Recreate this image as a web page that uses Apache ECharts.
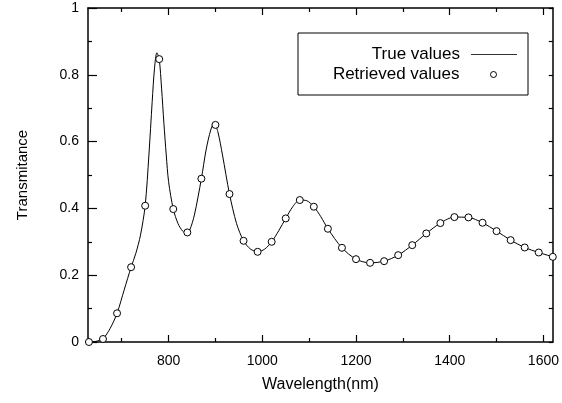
<!DOCTYPE html>
<html>
<head>
<meta charset="utf-8">
<script src="https://cdn.jsdelivr.net/npm/echarts@6/dist/echarts.min.js"></script>
<style>
  html, body { margin: 0; padding: 0; background: #fff; }
  #chart { width: 562px; height: 403px; }
</style>
</head>
<body>
<div id="chart"></div>
<script>
// Retrieved values, read every 30 nm
let retrievedX = [630, 660, 690, 720, 750, 780, 810, 840, 870, 900, 930, 960, 990, 1020, 1050, 1080, 1110,
	1140, 1170, 1200, 1230, 1260, 1290, 1320, 1350, 1380, 1410, 1440, 1470, 1500, 1530, 1560, 1590, 1620];
let retrievedY = [0.0, 0.009, 0.086, 0.224, 0.408, 0.847, 0.398, 0.328, 0.489, 0.65, 0.443, 0.303, 0.27, 0.30, 0.37, 0.425, 0.405,
	0.339, 0.282, 0.248, 0.237, 0.242, 0.26, 0.29, 0.325, 0.356, 0.374, 0.373, 0.357, 0.332, 0.305, 0.283, 0.268, 0.255];

// True values curve (denser around the peaks)
let trueX = [630, 645, 660, 675, 690, 705, 720, 730, 740, 750, 758, 765, 770, 775, 780, 785, 790, 795, 800, 810,
	820, 830, 838, 845, 855, 870, 880, 890, 897, 905, 915, 930, 945, 960, 975, 990, 1005, 1020, 1035, 1050,
	1065, 1080, 1095, 1110, 1125, 1140, 1170, 1200, 1230, 1260, 1290, 1320, 1350, 1380, 1410, 1440, 1470,
	1500, 1530, 1560, 1590, 1620];
let trueY = [0.0, 0.002, 0.010, 0.040, 0.086, 0.155, 0.224, 0.265, 0.320, 0.408, 0.56, 0.72, 0.82, 0.866, 0.847, 0.76, 0.655, 0.56, 0.48, 0.398,
	0.355, 0.332, 0.326, 0.335, 0.38, 0.489, 0.575, 0.635, 0.655, 0.630, 0.560, 0.443, 0.355, 0.303, 0.278, 0.270, 0.278, 0.300, 0.333, 0.370,
	0.405, 0.425, 0.423, 0.405, 0.375, 0.339, 0.282, 0.248, 0.237, 0.242, 0.26, 0.29, 0.325, 0.356, 0.374, 0.373, 0.357,
	0.332, 0.305, 0.283, 0.268, 0.255];

// Tick labels
let xMajor = [800, 1000, 1200, 1400, 1600];
let xMinor = [700, 900, 1100, 1300, 1500];

let font = 'Liberation Sans, Arial, sans-serif';

let chart = echarts.init(document.getElementById('chart'));

function pairs(xs, ys) {
	let out = [];
	for (let i = 0; i < xs.length; i++) {
		out.push([xs[i], ys[i]]);
	}
	return out;
}

function xAxis(pos, ticks, len, line, labels) {
	return {
		type: 'value',
		position: pos,
		min: 628,
		max: 1620,
		axisLine: { show: line, onZero: false, lineStyle: { color: '#000', width: 1.5 } },
		axisTick: { show: true, inside: true, length: len, customValues: ticks, lineStyle: { color: '#000', width: 1.2 } },
		axisLabel: labels ? {
			show: true, customValues: ticks, color: '#000', fontSize: 14, fontFamily: font, margin: 12,
			formatter: function (v) { return String(v); }
		} : { show: false },
		splitLine: { show: false }
	};
}

let bottom = xAxis('bottom', xMajor, 7, true, true);
bottom.name = 'Wavelength(nm)';
bottom.nameLocation = 'middle';
bottom.nameGap = 35;
bottom.nameTextStyle = { color: '#000', fontSize: 16, fontFamily: font };

let option = {
	animation: false,
	backgroundColor: '#fff',
	grid: { left: 88, right: 9, top: 8, bottom: 61 },
	xAxis: [
		bottom,
		xAxis('bottom', xMinor, 4, false, false),
		xAxis('top', xMajor, 7, true, false),
		xAxis('top', xMinor, 4, false, false)
	],
	yAxis: [
		{
			type: 'value',
			position: 'left',
			min: 0,
			max: 1,
			interval: 0.2,
			name: 'Transmitance',
			nameLocation: 'middle',
			nameGap: 58,
			nameTextStyle: { color: '#000', fontSize: 15, fontFamily: font },
			axisLine: { show: true, lineStyle: { color: '#000', width: 1.5 } },
			axisTick: { show: true, inside: true, length: 9, lineStyle: { color: '#000', width: 1.2 } },
			minorTick: { show: true, splitNumber: 2, length: 4, lineStyle: { color: '#000', width: 1.2 } },
			axisLabel: { color: '#000', fontSize: 14, fontFamily: font, margin: 9 },
			splitLine: { show: false }
		},
		{
			type: 'value',
			position: 'right',
			min: 0,
			max: 1,
			interval: 0.1,
			axisLine: { show: true, lineStyle: { color: '#000', width: 1.5 } },
			axisTick: { show: true, inside: true, length: 4, lineStyle: { color: '#000', width: 1.2 } },
			axisLabel: { show: false },
			splitLine: { show: false }
		}
	],
	graphic: [{
		type: 'rect',
		z: 3,
		shape: { x: 298, y: 33, width: 230, height: 62 },
		style: { fill: '#fff', stroke: '#000', lineWidth: 1 }
	}],
	legend: [
		{
			data: [{ name: 'True values', icon: 'rect' }],
			orient: 'vertical',
			align: 'right',
			right: 45,
			top: 46,
			padding: 0,
			itemWidth: 46,
			itemHeight: 1,
			itemStyle: { color: '#333' },
			textStyle: { color: '#000', fontSize: 17, fontFamily: font, padding: [0, 6, 0, 0] }
		},
		{
			data: [{ name: 'Retrieved values', icon: 'circle' }],
			orient: 'vertical',
			align: 'right',
			right: 65,
			top: 66,
			padding: 0,
			itemWidth: 6,
			itemHeight: 6,
			itemStyle: { color: '#fff', borderColor: '#000', borderWidth: 1 },
			textStyle: { color: '#000', fontSize: 17, fontFamily: font, padding: [0, 26, 0, 0] }
		}
	],
	series: [
		{
			name: 'True values',
			type: 'line',
			xAxisIndex: 0,
			yAxisIndex: 0,
			data: pairs(trueX, trueY),
			smooth: 0.3,
			symbol: 'none',
			lineStyle: { color: '#000', width: 1 },
			itemStyle: { color: '#000' },
			z: 2
		},
		{
			name: 'Retrieved values',
			type: 'scatter',
			xAxisIndex: 0,
			yAxisIndex: 0,
			data: pairs(retrievedX, retrievedY),
			symbol: 'circle',
			symbolSize: 7,
			itemStyle: { color: '#fff', borderColor: '#000', borderWidth: 1, opacity: 1 },
			z: 3
		}
	]
};

chart.setOption(option);
</script>
</body>
</html>
